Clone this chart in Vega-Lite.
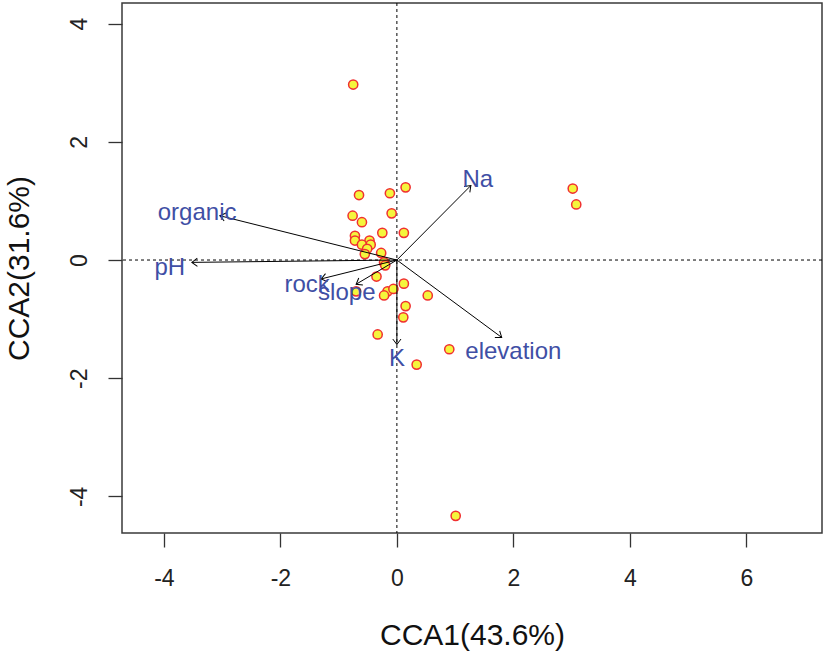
{
  "$schema": "https://vega.github.io/schema/vega-lite/v6.json",
  "width": 700,
  "height": 530,
  "autosize": {"type": "none"},
  "padding": {"left": 122, "top": 3, "right": 5, "bottom": 126},
  "background": "white",
  "datasets": {
    "sites": [
      {"CCA1": -0.75, "CCA2": 2.97}, {"CCA1": 0.15, "CCA2": 1.23}, {"CCA1": -0.65, "CCA2": 1.10},
      {"CCA1": -0.12, "CCA2": 1.13}, {"CCA1": 3.02, "CCA2": 1.21}, {"CCA1": 3.08, "CCA2": 0.94},
      {"CCA1": -0.76, "CCA2": 0.75}, {"CCA1": -0.09, "CCA2": 0.79}, {"CCA1": -0.60, "CCA2": 0.64},
      {"CCA1": -0.25, "CCA2": 0.46}, {"CCA1": 0.12, "CCA2": 0.46}, {"CCA1": -0.72, "CCA2": 0.41},
      {"CCA1": -0.72, "CCA2": 0.33}, {"CCA1": -0.47, "CCA2": 0.33}, {"CCA1": -0.60, "CCA2": 0.26},
      {"CCA1": -0.45, "CCA2": 0.26}, {"CCA1": -0.51, "CCA2": 0.19}, {"CCA1": -0.55, "CCA2": 0.10},
      {"CCA1": -0.27, "CCA2": 0.12}, {"CCA1": -0.22, "CCA2": -0.04}, {"CCA1": -0.20, "CCA2": -0.09},
      {"CCA1": -0.35, "CCA2": -0.28}, {"CCA1": 0.12, "CCA2": -0.40}, {"CCA1": -0.70, "CCA2": -0.53},
      {"CCA1": -0.16, "CCA2": -0.53}, {"CCA1": -0.06, "CCA2": -0.49}, {"CCA1": -0.22, "CCA2": -0.60},
      {"CCA1": 0.53, "CCA2": -0.60}, {"CCA1": 0.15, "CCA2": -0.78}, {"CCA1": 0.11, "CCA2": -0.97},
      {"CCA1": -0.33, "CCA2": -1.26}, {"CCA1": 0.90, "CCA2": -1.51}, {"CCA1": 0.34, "CCA2": -1.77},
      {"CCA1": 1.01, "CCA2": -4.33}
    ],
    "env": [
      {"var": "Na", "CCA1": 1.27, "CCA2": 1.26, "o": 0, "lx": 1.39, "ly": 1.35},
      {"var": "organic", "CCA1": -3.04, "CCA2": 0.75, "o": 0, "lx": -3.43, "ly": 0.80},
      {"var": "pH", "CCA1": -3.52, "CCA2": -0.04, "o": 0, "lx": -3.90, "ly": -0.13},
      {"var": "rock", "CCA1": -1.30, "CCA2": -0.32, "o": 0, "lx": -1.54, "ly": -0.43},
      {"var": "slope", "CCA1": -0.70, "CCA2": -0.41, "o": 0, "lx": -0.86, "ly": -0.55},
      {"var": "K", "CCA1": 0.0, "CCA2": -1.43, "o": 0, "lx": 0.0, "ly": -1.67},
      {"var": "elevation", "CCA1": 1.80, "CCA2": -1.31, "o": 0, "lx": 2.0, "ly": -1.55}
    ]
  },
  "layer": [
    {
      "data": {"values": [{"z": 0}]},
      "mark": {"type": "rule", "color": "black", "strokeDash": [3, 3], "strokeWidth": 1},
      "encoding": {
        "x": {
          "field": "z", "type": "quantitative",
          "scale": {"domain": [-4.72, 7.30], "nice": false, "zero": false},
          "axis": {"values": [-4, -2, 0, 2, 4, 6], "title": "CCA1(43.6%)", "labelExpr": "'' + datum.value", "labelPadding": 20, "titlePadding": 30}
        }
      }
    },
    {
      "data": {"values": [{"z": 0}]},
      "mark": {"type": "rule", "color": "black", "strokeDash": [3, 3], "strokeWidth": 1},
      "encoding": {
        "y": {
          "field": "z", "type": "quantitative",
          "scale": {"domain": [-4.62, 4.35], "nice": false, "zero": false},
          "axis": {"values": [-4, -2, 0, 2, 4], "title": "CCA2(31.6%)", "labelExpr": "'' + datum.value", "labelAngle": -90, "labelAlign": "center", "labelBaseline": "bottom", "labelPadding": 17, "titlePadding": 34}
        }
      }
    },
    {
      "data": {"name": "sites"},
      "mark": {"type": "point", "shape": "circle", "filled": true, "fill": "#F5F53C", "stroke": "#F03030", "strokeWidth": 1.5, "size": 85, "opacity": 1},
      "encoding": {
        "x": {"field": "CCA1", "type": "quantitative"},
        "y": {"field": "CCA2", "type": "quantitative"}
      }
    },
    {
      "data": {"name": "env"},
      "mark": {"type": "rule", "color": "black", "strokeWidth": 1},
      "encoding": {
        "x": {"field": "o", "type": "quantitative"},
        "y": {"field": "o", "type": "quantitative"},
        "x2": {"field": "CCA1"},
        "y2": {"field": "CCA2"}
      }
    },
    {
      "data": {"name": "env"},
      "transform": [{"calculate": "atan2(-datum.CCA2, datum.CCA1) * 180 / PI", "as": "ang"}],
      "mark": {"type": "point", "shape": "M-1,-0.75L0,0L-1,0.75", "filled": false, "stroke": "black", "strokeWidth": 1, "size": 120, "opacity": 1},
      "encoding": {
        "x": {"field": "CCA1", "type": "quantitative"},
        "y": {"field": "CCA2", "type": "quantitative"},
        "angle": {"field": "ang", "type": "quantitative", "scale": null}
      }
    },
    {
      "data": {"name": "env"},
      "mark": {"type": "text", "color": "#3F4FA5", "font": "Liberation Sans", "fontSize": 24, "align": "center", "baseline": "middle"},
      "encoding": {
        "x": {"field": "lx", "type": "quantitative"},
        "y": {"field": "ly", "type": "quantitative"},
        "text": {"field": "var"}
      }
    }
  ],
  "config": {
    "view": {"stroke": "#3a3a3a", "strokeWidth": 1.5},
    "axis": {
      "grid": false,
      "domain": false,
      "ticks": true,
      "tickColor": "#333333",
      "tickSize": 14,
      "tickWidth": 1.3,
      "labelFont": "Liberation Sans",
      "labelFontSize": 23,
      "labelColor": "#222222",
      "labelFlush": false,
      "labelOverlap": false,
      "titleFont": "Liberation Sans",
      "titleFontSize": 30,
      "titleFontWeight": "normal",
      "titleColor": "#111111"
    }
  }
}
